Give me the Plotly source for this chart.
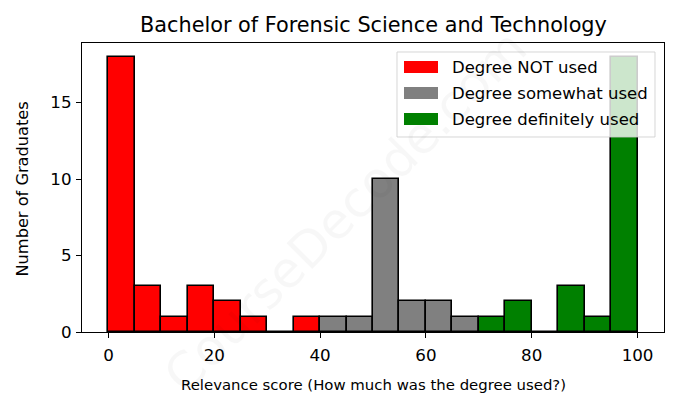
import plotly.graph_objects as go

# Data: histogram bins (width 5) and counts
bin_width = 5
not_used_left = [0, 5, 10, 15, 20, 25, 30, 35]
not_used_counts = [18, 3, 1, 3, 2, 1, 0, 1]
somewhat_left = [40, 45, 50, 55, 60, 65]
somewhat_counts = [1, 1, 10, 2, 2, 1]
definitely_left = [70, 75, 80, 85, 90, 95]
definitely_counts = [1, 2, 0, 3, 1, 18]

series = [
    ("Degree NOT used", not_used_left, not_used_counts, "#ff0000"),
    ("Degree somewhat used", somewhat_left, somewhat_counts, "#808080"),
    ("Degree definitely used", definitely_left, definitely_counts, "#008000"),
]

x_ticks = [0, 20, 40, 60, 80, 100]
y_ticks = [0, 5, 10, 15]

W, H = 678, 408
L, R, T, B = 82, 14, 43, 76
pw, ph = W - L - R, H - T - B

fig = go.Figure()
for name, lefts, counts, color in series:
    fig.add_trace(go.Bar(
        x=[l + bin_width / 2 for l in lefts], y=counts, width=bin_width,
        name=name, marker=dict(color=color, line=dict(color="black", width=1.6)),
        showlegend=False, hoverinfo="skip",
    ))

FONT = "DejaVu Sans"

def px(xp):
    return (xp - L) / pw

def py(yp):
    return (H - B - yp) / ph

shapes = []
annotations = []
# legend box
shapes.append(dict(type="rect", xref="paper", yref="paper", layer="above",
                   x0=px(397), x1=px(655), y0=py(137), y1=py(52),
                   fillcolor="rgba(255,255,255,0.8)",
                   line=dict(color="rgba(204,204,204,0.8)", width=1)))
rows = [67, 93, 119]
for (name, _, _, color), yc in zip(series, rows):
    shapes.append(dict(type="rect", xref="paper", yref="paper", layer="above",
                       x0=px(404), x1=px(438), y0=py(yc + 6), y1=py(yc - 6),
                       fillcolor=color, line=dict(width=0)))
    annotations.append(dict(x=px(451), y=py(yc), xref="paper", yref="paper",
                            text=name, showarrow=False, xanchor="left", yanchor="middle",
                            xshift=-1,
                            font=dict(family=FONT, size=16.5, color="black")))

# title and axis titles
annotations.append(dict(x=0.5, y=py(25), xref="paper", yref="paper",
                        text="Bachelor of Forensic Science and Technology",
                        showarrow=False, xanchor="center", yanchor="middle",
                        font=dict(family=FONT, size=20.8, color="black")))
annotations.append(dict(x=0.5, y=py(385), xref="paper", yref="paper",
                        text="Relevance score (How much was the degree used?)",
                        showarrow=False, xanchor="center", yanchor="middle",
                        font=dict(family=FONT, size=14.9, color="black")))
annotations.append(dict(x=px(21.5), y=py(189), xref="paper", yref="paper",
                        text="Number of Graduates", textangle=-90,
                        showarrow=False, xanchor="center", yanchor="middle",
                        font=dict(family=FONT, size=16.2, color="black")))

# faint watermark
annotations.append(dict(x=px(345), y=py(212), xref="paper", yref="paper",
                        text="CourseDecode.com", showarrow=False, textangle=-45,
                        font=dict(family=FONT, size=50, color="rgba(0,0,0,0.03)")))

fig.update_layout(
    width=W, height=H,
    margin=dict(l=L, r=R, t=T, b=B, autoexpand=False),
    paper_bgcolor="white", plot_bgcolor="white",
    bargap=0,
    font=dict(family=FONT, color="black"),
    shapes=shapes, annotations=annotations,
)
fig.update_xaxes(
    range=[-5, 105], tickvals=x_ticks, ticks="outside", ticklen=5, tickwidth=1.3,
    tickcolor="black", showline=True, linecolor="black", linewidth=1.3, mirror=True,
    showgrid=False, zeroline=False, tickfont=dict(size=16.7, family=FONT),
    ticklabelstandoff=3,
)
fig.update_yaxes(
    range=[0, 18.9], tickvals=y_ticks, ticks="outside", ticklen=5, tickwidth=1.3,
    tickcolor="black", showline=True, linecolor="black", linewidth=1.3, mirror=True,
    showgrid=False, zeroline=False, tickfont=dict(size=16.7, family=FONT),
    ticklabelstandoff=1,
)

fig.write_html("out.html", config={"displayModeBar": False},
               post_script="document.body.style.margin='0';")
